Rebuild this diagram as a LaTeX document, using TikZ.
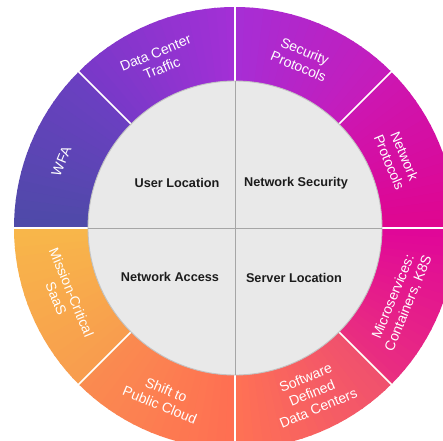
\documentclass[tikz,border=0pt]{standalone}
\usepackage{fontspec}
\setmainfont{Liberation Sans}
\definecolor{cA}{HTML}{4E4AA8}
\definecolor{cB}{HTML}{6C3FC2}
\definecolor{cC}{HTML}{7839C8}
\definecolor{cD}{HTML}{A42FD6}
\definecolor{cE}{HTML}{A62ED5}
\definecolor{cF}{HTML}{C61BBA}
\definecolor{cG}{HTML}{CC16B2}
\definecolor{cH}{HTML}{E0058F}
\definecolor{cI}{HTML}{E00699}
\definecolor{cJ}{HTML}{E9307F}
\definecolor{cK}{HTML}{F0506E}
\definecolor{cL}{HTML}{FF7254}
\definecolor{cM}{HTML}{FF6E52}
\definecolor{cN}{HTML}{FA8C50}
\definecolor{cO}{HTML}{F89C4E}
\definecolor{cP}{HTML}{F8B74A}
\definecolor{innerfill}{HTML}{E9E9E9}
\definecolor{innerline}{HTML}{C2C2C2}
\definecolor{quadline}{HTML}{A6A6A6}
\definecolor{labeltext}{HTML}{1C1C1C}
\newcommand\ringseg[4]{%
  \foreach \i in {0,...,17}{%
    \pgfmathsetmacro\aa{#1+(#2-#1)*\i/18}%
    \pgfmathsetmacro\ab{#1+(#2-#1)*(\i+1)/18+0.4}%
    \pgfmathtruncatemacro\pp{100-100*(\i+0.5)/18}%
    \fill[#3!\pp!#4] (0,0) -- (\aa:221) arc[start angle=\aa, end angle=\ab, radius=221] -- cycle;
  }}
\tikzset{
  ringlbl/.style={text=white, align=center, font=\fontsize{14}{16.5}\selectfont, inner sep=0pt},
  quadlbl/.style={text=labeltext, font=\bfseries\fontsize{12.7}{14}\selectfont, inner sep=0pt},
  sepline/.style={white, line width=1.6pt},
}
\begin{document}
\begin{tikzpicture}[x=1pt,y=1pt]
\useasboundingbox (-235,-212) rectangle (208,228);
\clip (-235,-212) rectangle (208,228);
\fill[white] (-235,-212) rectangle (208,228);
% ring segments (start angle < end angle)
\ringseg{135}{180}{cB}{cA}
\ringseg{90}{135}{cD}{cC}
\ringseg{45}{90}{cF}{cE}
\ringseg{0}{45}{cH}{cG}
\ringseg{-45}{0}{cJ}{cI}
\ringseg{-90}{-45}{cL}{cK}
\ringseg{-135}{-90}{cN}{cM}
\ringseg{-180}{-135}{cP}{cO}
% separators
\foreach \a in {0,45,...,315}{
  \draw[sepline] (\a:140) -- (\a:224);
}
% inner disc
\node[circle, minimum size=294pt, inner sep=0pt, fill=innerfill, draw=innerline, line width=0.9pt] (disc) at (0,0) {};
\draw[quadline, line width=0.8pt] (disc.north) -- (disc.south);
\draw[quadline, line width=0.8pt] (disc.west) -- (disc.east);
% quadrant labels
\node[quadlbl] (userloc) at (-58,45) {User Location};
\node[quadlbl] (netsec) at (61,45) {Network Security};
\node[quadlbl] (netacc) at (-65,-49) {Network Access};
\node[quadlbl] (srvloc) at (59,-50) {Server Location};
% ring labels
\node[ringlbl, rotate=67.5] (wfa) at (159:186) {WFA};
\node[ringlbl, rotate=22.5] (dct) at (114.5:184) {Data Center\\Traffic};
\node[ringlbl, rotate=-22.5] (secp) at (68.5:182) {Security\\Protocols};
\node[ringlbl, rotate=-67.5] (netp) at (23:176) {Network\\Protocols};
\node[ringlbl, rotate=67.5] (micro) at (-23.5:181) {Microservices:\\Containers, K8S};
\node[ringlbl, rotate=22.5] (sddc) at (-65:182) {Software\\Defined\\Data Centers};
\node[ringlbl, rotate=-22.5] (shift) at (-113:184) {Shift to\\Public Cloud};
\node[ringlbl, rotate=-67.5] (mcs) at (-158.5:184) {Mission-Critical\\SaaS};
\end{tikzpicture}
\end{document}
